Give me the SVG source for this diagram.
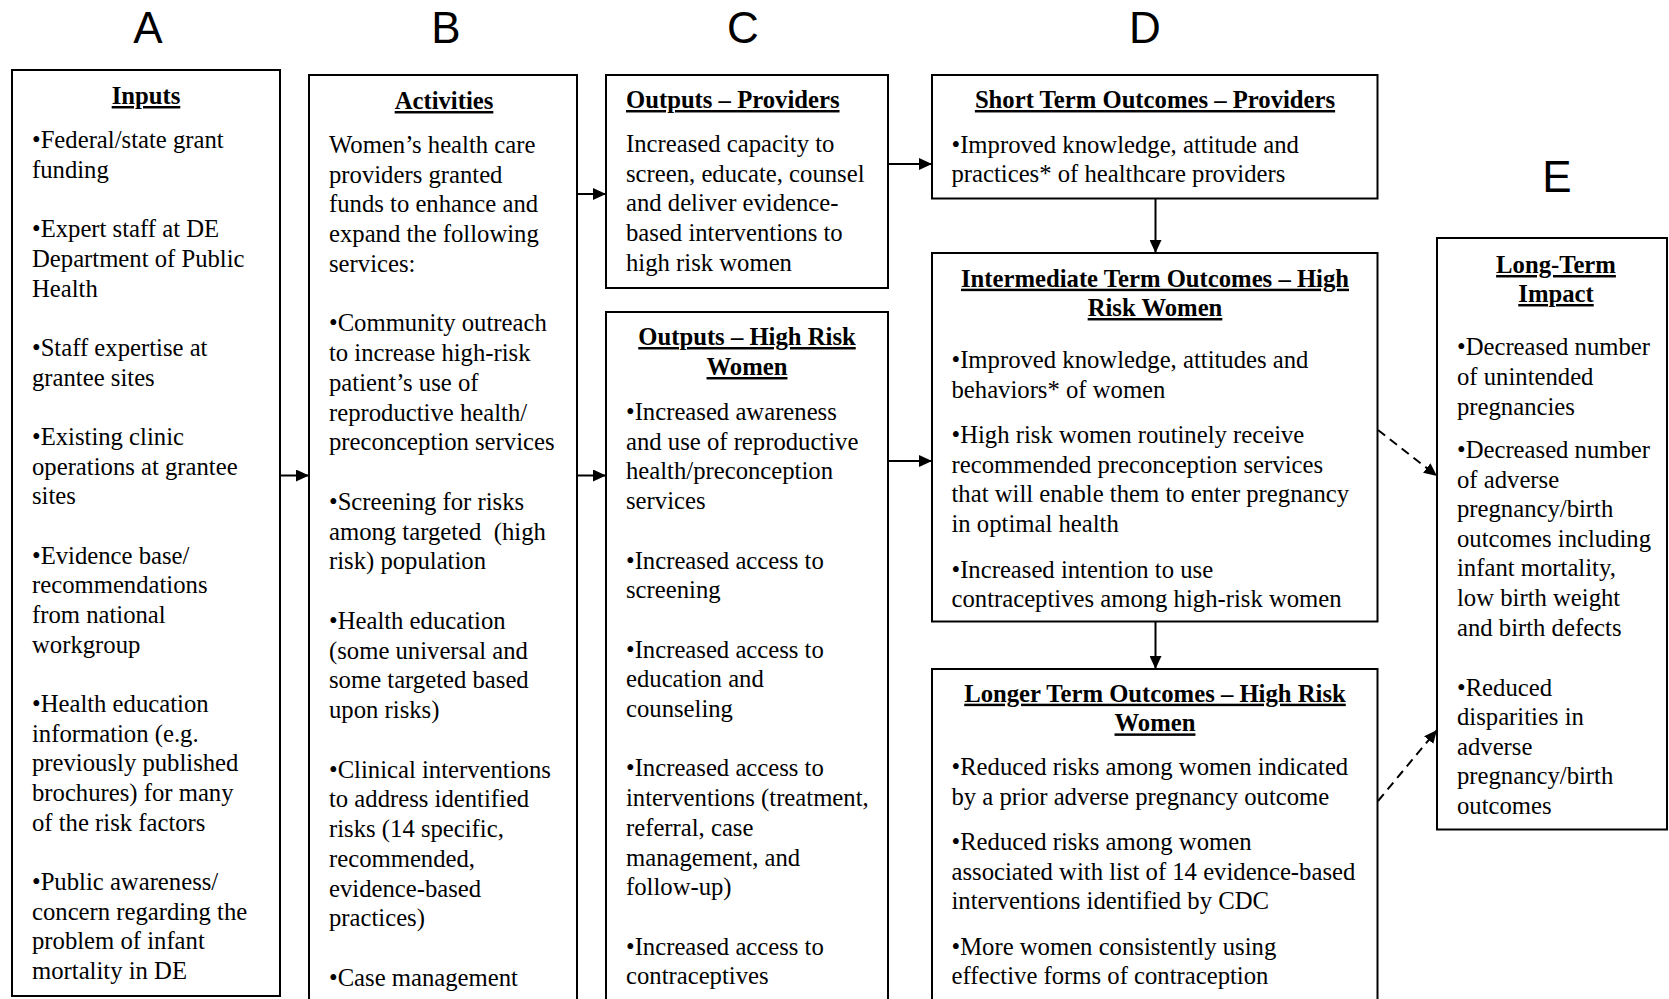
<svg xmlns="http://www.w3.org/2000/svg" width="1669" height="999" viewBox="0 0 1669 999">
<style>
.box{fill:#fff;stroke:#000;stroke-width:2}
.t{font-family:"Liberation Serif","Times New Roman",serif;font-size:24.7px;fill:#000}
.h{font-family:"Liberation Serif","Times New Roman",serif;font-size:24.7px;font-weight:bold;text-decoration:underline;fill:#000}
.c{text-anchor:middle}
.lab{font-family:"Liberation Sans",Arial,sans-serif;font-size:44px;fill:#000;text-anchor:middle}
.con{stroke:#000;stroke-width:2;fill:none}
.dash{stroke-dasharray:9 6}
</style>
<defs>
<marker id="ah" markerUnits="userSpaceOnUse" markerWidth="14" markerHeight="12" refX="13" refY="6" orient="auto">
<path d="M0,0 L13,6 L0,12 z" fill="#000"/>
</marker>
</defs>
<rect width="1669" height="999" fill="#fff"/>

<g id="labels">
<text class="lab" x="148" y="43">A</text>
<text class="lab" x="446" y="43">B</text>
<text class="lab" x="743" y="43">C</text>
<text class="lab" x="1145" y="43">D</text>
<text class="lab" x="1557" y="192">E</text>
</g>

<g id="inputs">
<rect class="box" x="12" y="70" width="268" height="926"/>
<text class="h c" x="146" y="104">Inputs</text>
<text class="t">
<tspan x="32" y="148.3">•Federal/state grant</tspan>
<tspan x="32" y="178">funding</tspan>
<tspan x="32" y="237.3">•Expert staff at DE</tspan>
<tspan x="32" y="267">Department of Public</tspan>
<tspan x="32" y="296.6">Health</tspan>
<tspan x="32" y="356">•Staff expertise at</tspan>
<tspan x="32" y="385.7">grantee sites</tspan>
<tspan x="32" y="445">•Existing clinic</tspan>
<tspan x="32" y="474.7">operations at grantee</tspan>
<tspan x="32" y="504.3">sites</tspan>
<tspan x="32" y="563.7">•Evidence base/</tspan>
<tspan x="32" y="593.3">recommendations</tspan>
<tspan x="32" y="623">from national</tspan>
<tspan x="32" y="652.7">workgroup</tspan>
<tspan x="32" y="712">•Health education</tspan>
<tspan x="32" y="741.7">information (e.g.</tspan>
<tspan x="32" y="771.3">previously published</tspan>
<tspan x="32" y="801">brochures) for many</tspan>
<tspan x="32" y="830.7">of the risk factors</tspan>
<tspan x="32" y="890">•Public awareness/</tspan>
<tspan x="32" y="919.7">concern regarding the</tspan>
<tspan x="32" y="949.3">problem of infant</tspan>
<tspan x="32" y="979">mortality in DE</tspan>
</text>
</g>

<g id="activities">
<rect class="box" x="309" y="75" width="268" height="940"/>
<text class="h c" x="444" y="109">Activities</text>
<text class="t">
<tspan x="329" y="152.7">Women’s health care</tspan>
<tspan x="329" y="182.5">providers granted</tspan>
<tspan x="329" y="212.2">funds to enhance and</tspan>
<tspan x="329" y="242">expand the following</tspan>
<tspan x="329" y="271.7">services:</tspan>
<tspan x="329" y="331.2">•Community outreach</tspan>
<tspan x="329" y="361">to increase high-risk</tspan>
<tspan x="329" y="390.7">patient’s use of</tspan>
<tspan x="329" y="420.5">reproductive health/</tspan>
<tspan x="329" y="450.2">preconception services</tspan>
<tspan x="329" y="509.7">•Screening for risks</tspan>
<tspan x="329" y="539.5">among targeted &#160;(high</tspan>
<tspan x="329" y="569.2">risk) population</tspan>
<tspan x="329" y="628.7">•Health education</tspan>
<tspan x="329" y="658.5">(some universal and</tspan>
<tspan x="329" y="688.2">some targeted based</tspan>
<tspan x="329" y="718">upon risks)</tspan>
<tspan x="329" y="777.5">•Clinical interventions</tspan>
<tspan x="329" y="807.2">to address identified</tspan>
<tspan x="329" y="837">risks (14 specific,</tspan>
<tspan x="329" y="866.7">recommended,</tspan>
<tspan x="329" y="896.5">evidence-based</tspan>
<tspan x="329" y="926.2">practices)</tspan>
<tspan x="329" y="985.7">•Case management</tspan>
</text>
</g>

<g id="outputs-providers">
<rect class="box" x="606" y="75" width="282" height="213"/>
<text class="h" x="626" y="108">Outputs – Providers</text>
<text class="t">
<tspan x="626" y="151.7">Increased capacity to</tspan>
<tspan x="626" y="181.5">screen, educate, counsel</tspan>
<tspan x="626" y="211.3">and deliver evidence-</tspan>
<tspan x="626" y="241.1">based interventions to</tspan>
<tspan x="626" y="270.9">high risk women</tspan>
</text>
</g>

<g id="outputs-high-risk">
<rect class="box" x="606" y="312" width="282" height="700"/>
<text class="h c" x="747" y="345">Outputs – High Risk</text>
<text class="h c" x="747" y="375">Women</text>
<text class="t">
<tspan x="626" y="420">•Increased awareness</tspan>
<tspan x="626" y="449.7">and use of reproductive</tspan>
<tspan x="626" y="479.4">health/preconception</tspan>
<tspan x="626" y="509.1">services</tspan>
<tspan x="626" y="568.5">•Increased access to</tspan>
<tspan x="626" y="598.2">screening</tspan>
<tspan x="626" y="657.6">•Increased access to</tspan>
<tspan x="626" y="687.3">education and</tspan>
<tspan x="626" y="717">counseling</tspan>
<tspan x="626" y="776.4">•Increased access to</tspan>
<tspan x="626" y="806.1">interventions (treatment,</tspan>
<tspan x="626" y="835.8">referral, case</tspan>
<tspan x="626" y="865.5">management, and</tspan>
<tspan x="626" y="895.2">follow-up)</tspan>
<tspan x="626" y="954.6">•Increased access to</tspan>
<tspan x="626" y="984.3">contraceptives</tspan>
</text>
</g>

<g id="short-term">
<rect class="box" x="932" y="75" width="445.5" height="123.5"/>
<text class="h c" x="1155" y="108">Short Term Outcomes – Providers</text>
<text class="t">
<tspan x="951.5" y="152.7">•Improved knowledge, attitude and</tspan>
<tspan x="951.5" y="182">practices* of healthcare providers</tspan>
</text>
</g>

<g id="intermediate-term">
<rect class="box" x="932" y="253" width="445.5" height="368.5"/>
<text class="h c" x="1155" y="286.7">Intermediate Term Outcomes – High</text>
<text class="h c" x="1155" y="316">Risk Women</text>
<text class="t">
<tspan x="951.5" y="368.3">•Improved knowledge, attitudes and</tspan>
<tspan x="951.5" y="397.8">behaviors* of women</tspan>
<tspan x="951.5" y="443">•High risk women routinely receive</tspan>
<tspan x="951.5" y="472.7">recommended preconception services</tspan>
<tspan x="951.5" y="502.4">that will enable them to enter pregnancy</tspan>
<tspan x="951.5" y="532">in optimal health</tspan>
<tspan x="951.5" y="577.5">•Increased intention to use</tspan>
<tspan x="951.5" y="607">contraceptives among high-risk women</tspan>
</text>
</g>

<g id="longer-term">
<rect class="box" x="932" y="669" width="445.5" height="345"/>
<text class="h c" x="1155" y="701.7">Longer Term Outcomes – High Risk</text>
<text class="h c" x="1155" y="731.4">Women</text>
<text class="t">
<tspan x="951.5" y="775">•Reduced risks among women indicated</tspan>
<tspan x="951.5" y="804.7">by a prior adverse pregnancy outcome</tspan>
<tspan x="951.5" y="850">•Reduced risks among women</tspan>
<tspan x="951.5" y="879.7">associated with list of 14 evidence-based</tspan>
<tspan x="951.5" y="909.4">interventions identified by CDC</tspan>
<tspan x="951.5" y="954.5">•More women consistently using</tspan>
<tspan x="951.5" y="984.2">effective forms of contraception</tspan>
</text>
</g>

<g id="long-term-impact">
<rect class="box" x="1437" y="238" width="230" height="591.5"/>
<text class="h c" x="1556" y="273">Long-Term</text>
<text class="h c" x="1556" y="302">Impact</text>
<text class="t">
<tspan x="1457" y="355.4">•Decreased number</tspan>
<tspan x="1457" y="385">of unintended</tspan>
<tspan x="1457" y="414.6">pregnancies</tspan>
<tspan x="1457" y="458">•Decreased number</tspan>
<tspan x="1457" y="487.6">of adverse</tspan>
<tspan x="1457" y="517.2">pregnancy/birth</tspan>
<tspan x="1457" y="546.8">outcomes including</tspan>
<tspan x="1457" y="576.4">infant mortality,</tspan>
<tspan x="1457" y="606">low birth weight</tspan>
<tspan x="1457" y="635.6">and birth defects</tspan>
<tspan x="1457" y="695.5">•Reduced</tspan>
<tspan x="1457" y="725.1">disparities in</tspan>
<tspan x="1457" y="754.7">adverse</tspan>
<tspan x="1457" y="784.3">pregnancy/birth</tspan>
<tspan x="1457" y="813.9">outcomes</tspan>
</text>
</g>

<g id="connectors">
<line class="con" x1="280" y1="475.5" x2="309" y2="475.5" marker-end="url(#ah)"/>
<line class="con" x1="577" y1="194" x2="606" y2="194" marker-end="url(#ah)"/>
<line class="con" x1="577" y1="475.5" x2="606" y2="475.5" marker-end="url(#ah)"/>
<line class="con" x1="888" y1="164" x2="932" y2="164" marker-end="url(#ah)"/>
<line class="con" x1="888" y1="461" x2="932" y2="461" marker-end="url(#ah)"/>
<line class="con" x1="1155.5" y1="198.5" x2="1155.5" y2="253" marker-end="url(#ah)"/>
<line class="con" x1="1155.5" y1="621.5" x2="1155.5" y2="669" marker-end="url(#ah)"/>
<line class="con dash" x1="1378" y1="430" x2="1437" y2="476" marker-end="url(#ah)"/>
<line class="con dash" x1="1378" y1="801" x2="1437" y2="730" marker-end="url(#ah)"/>
</g>
</svg>
